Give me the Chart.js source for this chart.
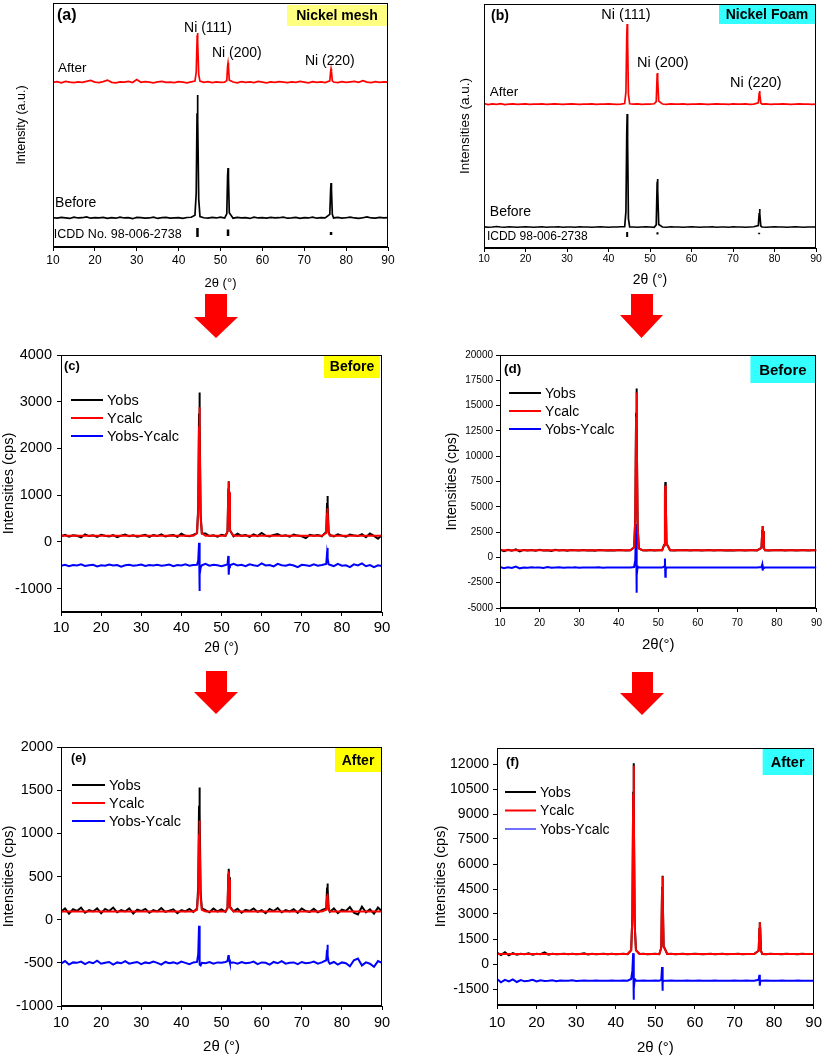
<!DOCTYPE html>
<html>
<head>
<meta charset="utf-8">
<script src="https://cdn.jsdelivr.net/npm/chart.js@4.4.1/dist/chart.umd.min.js"></script>
<style>
  body { margin: 0; background: #fff; }
  #page { position: relative; width: 827px; height: 1057px; overflow: hidden; background: #fff; }
  canvas { position: absolute; }
  .arrow { position: absolute; background: #ff0000; }
</style>
</head>
<body>
<div id="page">
  <canvas id="meshXrd" width="413" height="295" style="left:0;top:0"></canvas>
  <canvas id="foamXrd" width="414" height="295" style="left:413px;top:0"></canvas>
  <canvas id="meshBefore" width="413" height="320" style="left:0;top:340px"></canvas>
  <canvas id="foamBefore" width="414" height="320" style="left:413px;top:340px"></canvas>
  <canvas id="meshAfter" width="413" height="337" style="left:0;top:720px"></canvas>
  <canvas id="foamAfter" width="414" height="337" style="left:413px;top:720px"></canvas>
</div>
<script>
// shared 2-theta grid (deg)
const twoTheta = [
  10, 11, 12, 13, 14, 15, 16, 17, 18, 19, 20, 21, 22, 23, 24, 25, 26, 27, 28, 29, 30, 31, 32, 33, 34, 35, 36, 37, 38, 39, 40, 41, 42, 43,
  43.9, 44.2, 44.4, 44.5, 44.6, 44.8, 45.1,
  46, 47, 48, 49, 50, 51,
  51.5, 51.7, 51.8, 51.9, 52.1,
  53, 54, 55, 56, 57, 58, 59, 60, 61, 62, 63, 64, 65, 66, 67, 68, 69, 70, 71, 72, 73, 74, 75,
  76.1, 76.3, 76.4, 76.5, 76.7,
  77, 78, 79, 80, 81, 82, 83, 84, 85, 86, 87, 88, 89, 90
];
const xTicks = [10, 20, 30, 40, 50, 60, 70, 80, 90];

// (a) nickel mesh, arbitrary units
const meshAfterAU = [
  67.5, 67.8, 67.3, 67.9, 67.6, 67.4, 67.7, 67.5, 67.9, 68.3, 67.6, 67.4, 67.8, 68.4, 67.5, 67.3, 67.7, 67.6, 67.9, 67.4, 68.6, 67.5, 67.8, 67.6, 67.3, 67.7, 67.9, 67.5, 67.6, 67.4, 67.8, 67.6, 67.3, 67.7,
  68.0, 71.6, 84.7, 87.7, 83.7, 70.6, 68.0,
  67.5, 67.8, 67.4, 67.7, 67.5, 67.6,
  68.2, 74.2, 75.4, 73.8, 68.4,
  67.6, 67.3, 67.8, 67.5, 67.7, 67.4, 67.9, 67.6, 67.3, 67.7, 67.5, 67.8, 67.6, 67.4, 67.7, 67.5, 67.9, 67.6, 67.3, 67.8, 67.5, 67.7, 67.4,
  68.1, 71.9, 73.0, 71.9, 68.1,
  67.6, 67.4, 67.8, 67.5, 67.7, 67.9, 67.5, 68.2, 67.6, 67.4, 67.8, 67.5, 67.7, 67.6
];
const meshBeforeAU = [
  12.0, 11.8, 12.1, 11.9, 11.7, 12.2, 11.9, 12.0, 12.3, 11.8, 12.0, 11.9, 12.1, 11.7, 12.0, 11.8, 12.2, 11.9, 12.0, 11.6, 12.1, 12.0, 11.8, 11.9, 12.2, 11.7, 12.0, 12.1, 11.8, 11.9, 12.0, 11.7, 12.1, 12.2,
  13.0, 22, 54.8, 62.3, 52.2, 19.5, 12.5,
  12.0, 11.8, 12.1, 11.9, 12.2, 11.9,
  13.6, 29.3, 32.4, 28.3, 14.0,
  11.8, 12.1, 11.9, 12.0, 11.7, 12.2, 11.9, 12.0, 11.8, 12.1, 11.9, 12.0, 12.2, 11.8, 11.9, 12.1, 11.7, 12.0, 11.9, 12.2, 11.8, 12.0, 11.9,
  13.4, 23.4, 26.2, 23.4, 13.4,
  11.9, 12.1, 11.8, 12.0, 12.2, 11.9, 11.7, 12.0, 12.3, 11.9, 11.8, 12.1, 11.9, 12.0
];
const icddPosMesh = [44.5, 51.8, 76.4];
const icddLowMesh = [4.1, 4.5, 4.9];
const icddHighMesh = [7.8, 7.2, 6.1];

// (b) nickel foam, arbitrary units
const foamAfterAU = [
  59.2, 58.8, 59.1, 58.9, 59.2, 58.8, 59.0, 59.1, 58.9, 59.0, 59.1, 58.9, 59.0, 59.0, 59.1, 58.9, 59.0, 59.1, 59.0, 58.9, 59.0, 59.1, 59.0, 58.9, 59.0, 59.0, 59.1, 58.9, 59.0, 59.0, 59.1, 59.0, 58.9, 59.0,
  59.2, 64, 87, 91.8, 85, 63, 59.1,
  59.0, 59.1, 58.9, 59.0, 59.0, 59.1,
  60.0, 69.8, 71.7, 69.0, 60.2,
  59.0, 58.9, 59.1, 59.0, 59.0, 59.1, 58.9, 59.0, 59.0, 59.1, 59.0, 58.9, 59.0, 59.1, 59.0, 59.0, 58.9, 59.1, 59.0, 59.0, 59.1, 58.9, 59.0,
  59.5, 63.2, 64.3, 63.0, 59.4,
  59.0, 59.1, 58.9, 59.0, 59.0, 59.1, 59.0, 58.9, 59.0, 59.1, 59.0, 59.0, 58.9, 59.0
];
const foamBeforeAU = [
  8.7, 8.5, 8.6, 8.8, 8.6, 8.5, 8.7, 8.6, 8.5, 8.6, 8.7, 8.6, 8.5, 8.6, 8.7, 8.5, 8.6, 8.6, 8.7, 8.5, 8.6, 8.6, 8.5, 8.7, 8.6, 8.6, 8.5, 8.6, 8.7, 8.6, 8.5, 8.6, 8.6, 8.7,
  8.7, 15, 47, 54.9, 44, 12, 8.6,
  8.6, 8.5, 8.6, 8.7, 8.6, 8.5,
  9.5, 25, 28.3, 24, 9.6,
  8.6, 8.5, 8.7, 8.6, 8.6, 8.5, 8.6, 8.7, 8.6, 8.5, 8.6, 8.6, 8.7, 8.5, 8.6, 8.6, 8.5, 8.7, 8.6, 8.6, 8.5, 8.6, 8.7,
  9.2, 14, 16.0, 14, 9.0,
  8.6, 8.5, 8.6, 8.7, 8.6, 8.6, 8.5, 8.6, 8.7, 8.6, 8.5, 8.6, 8.6, 8.6
];
const icddPosFoam = [44.5, 51.8, 76.3];
const icddLowFoam = [4.5, 5.5, 5.6];
const icddHighFoam = [6.6, 6.5, 6.2];

// (c) nickel mesh before, cps
const obsC = [
  120, 150, 110, 140, 130, 95, 160, 125, 140, 105, 150, 130, 115, 145, 100, 135, 155, 120, 140, 110, 130, 150, 105, 145, 125, 160, 115, 135, 145, 110, 175, 130, 120, 150,
  190, 750, 2750, 3200, 2600, 590, 180,
  180, 125, 140, 110, 150, 130,
  220, 1120, 1300, 1060, 250,
  120, 175, 130, 145, 110, 160, 125, 190, 135, 115, 150, 170, 125, 140, 110, 155, 135, 120, 80, 150, 130, 145, 120,
  215, 810, 980, 810, 215,
  150, 120, 160, 135, 110, 155, 140, 125, 165, 100, 180, 130, 70, 150
];
const calcC = [
  130, 130, 130, 130, 130, 130, 130, 130, 130, 130, 130, 130, 130, 130, 130, 130, 130, 130, 130, 130, 130, 130, 130, 130, 130, 130, 130, 130, 130, 130, 130, 130, 130, 130,
  185, 680, 2470, 2880, 2330, 540, 185,
  132, 132, 132, 132, 132, 132,
  225, 1115, 1290, 1060, 245,
  130, 130, 130, 130, 130, 130, 130, 130, 130, 130, 130, 130, 130, 130, 130, 130, 130, 130, 130, 130, 130, 130, 130,
  190, 600, 720, 600, 190,
  130, 130, 130, 130, 130, 130, 130, 130, 130, 130, 130, 130, 130, 130
];
const diffC = [
  -510, -490, -520, -495, -505, -480, -515, -500, -490, -525, -500, -510, -485, -505, -495, -530, -500, -490, -510, -500, -485, -515, -495, -505, -490, -510, -500, -485, -520, -495, -505, -480, -510, -495,
  -490, -400, -20, -1050, -700, -550, -500,
  -470, -510, -490, -500, -520, -495,
  -480, -300, -700, -540, -500,
  -470, -505, -490, -520, -480, -500, -515, -460, -505, -495, -525, -470, -500, -510, -485, -505, -540, -490, -500, -515, -480, -510, -495,
  -470, -250, -130, -350, -480,
  -490, -520, -470, -510, -500, -540, -480, -505, -460, -520, -495, -540, -500, -515
];
const yTicksC = [-1000, 0, 1000, 2000, 3000, 4000];

// (d) nickel foam before, cps
const obsD = [
  780, 620, 760, 650, 800, 600, 740, 690, 720, 650, 760, 680, 710, 640, 750, 690, 720, 660, 730, 700, 680, 720, 690, 710, 670, 730, 700, 690, 710, 680, 720, 700, 690, 710,
  1000, 3900, 14300, 16700, 13500, 3100, 900,
  710, 690, 720, 680, 700, 710,
  1240, 6400, 7450, 6100, 1380,
  700, 690, 710, 700, 720, 680, 700, 710, 690, 700, 720, 690, 700, 710, 680, 700, 690, 710, 700, 690, 710, 700, 690,
  940, 2620, 3100, 2620, 940,
  700, 690, 710, 700, 720, 690, 700, 710, 680, 700, 710, 690, 700, 700
];
const calcD = [
  700, 700, 700, 700, 700, 700, 700, 700, 700, 700, 700, 700, 700, 700, 700, 700, 700, 700, 700, 700, 700, 700, 700, 700, 700, 700, 700, 700, 700, 700, 700, 700, 700, 700,
  1000, 3800, 13900, 16300, 13200, 3000, 900,
  700, 700, 700, 700, 700, 700,
  1210, 6140, 7100, 5820, 1340,
  700, 700, 700, 700, 700, 700, 700, 700, 700, 700, 700, 700, 700, 700, 700, 700, 700, 700, 700, 700, 700, 700, 700,
  940, 2620, 3100, 2620, 940,
  700, 700, 700, 700, 700, 700, 700, 700, 700, 700, 700, 700, 700, 700
];
const diffD = [
  -950, -1060, -980, -1040, -900, -1080, -1000, -1030, -970, -1010, -990, -1040, -960, -1020, -1000, -980, -1030, -990, -1010, -970, -1020, -1000, -990, -1010, -1000, -980, -1020, -1000, -990, -1010, -1000, -1010, -990, -1000,
  -950, -300, 3300, -3500, -1800, -900, -1000,
  -1010, -990, -1000, -1010, -990, -1000,
  -900, -100, -1900, -1200, -1000,
  -1000, -990, -1010, -1000, -990, -1010, -1000, -1000, -990, -1010, -1000, -990, -1010, -1000, -1000, -990, -1010, -1000, -990, -1010, -1000, -1000, -990,
  -950, -700, -1300, -1050, -1000,
  -1000, -1010, -990, -1000, -1010, -990, -1000, -1000, -1010, -990, -1000, -1010, -990, -1000
];
const yTicksD = [-5000, -2500, 0, 2500, 5000, 7500, 10000, 12500, 15000, 17500, 20000];

// (e) nickel mesh after, cps
const obsE = [
  90, 130, 70, 120, 100, 140, 80, 110, 95, 130, 75, 125, 100, 140, 85, 110, 95, 130, 70, 115, 100, 125, 80, 110, 95, 135, 90, 105, 120, 75, 110, 95, 125, 90,
  130, 390, 1320, 1530, 1240, 310, 130,
  110, 85, 130, 95, 120, 90,
  140, 520, 590, 490, 150,
  95, 125, 80, 115, 100, 130, 90, 110, 75, 125, 100, 135, 85, 110, 95, 120, 80, 130, 100, 90, 125, 85, 110,
  130, 360, 420, 360, 130,
  90, 130, 75, 115, 100, 145, 80, 60, 150, 85, 120, 70, 140, 95
];
const calcE = [
  95, 95, 95, 95, 95, 95, 95, 95, 95, 95, 95, 95, 95, 95, 95, 95, 95, 95, 95, 95, 95, 95, 95, 95, 95, 95, 95, 95, 95, 95, 95, 95, 95, 95,
  115, 305, 990, 1150, 940, 255, 115,
  95, 95, 95, 95, 95, 95,
  130, 490, 560, 465, 140,
  95, 95, 95, 95, 95, 95, 95, 95, 95, 95, 95, 95, 95, 95, 95, 95, 95, 95, 95, 95, 95, 95, 95,
  115, 260, 300, 260, 115,
  95, 95, 95, 95, 95, 95, 95, 95, 95, 95, 95, 95, 95, 95
];
const diffE = [
  -510, -480, -520, -495, -500, -485, -515, -490, -505, -475, -510, -500, -490, -520, -495, -505, -480, -510, -500, -490, -515, -495, -505, -485, -500, -520, -490, -505, -495, -510, -485, -500, -515, -495,
  -490, -400, -70, -280, -520, -530, -500,
  -505, -490, -510, -495, -500, -490,
  -480, -420, -410, -460, -500,
  -495, -510, -490, -505, -500, -485, -515, -495, -500, -520, -490, -505, -480, -510, -500, -495, -515, -490, -505, -500, -485, -510, -495,
  -470, -350, -290, -420, -490,
  -510, -490, -520, -495, -505, -540, -470, -450, -530, -495, -510, -545, -480, -500
];
const yTicksE = [-1000, -500, 0, 500, 1000, 1500, 2000];

// (f) nickel foam after, cps
const obsF = [
  680, 540, 700, 520, 650, 560, 620, 580, 640, 560, 610, 590, 700, 560, 620, 580, 600, 610, 590, 620, 580, 600, 640, 570, 610, 590, 600, 620, 580, 610, 590, 600, 610, 590,
  830, 2890, 10330, 12050, 9760, 2320, 830,
  600, 610, 590, 600, 620, 590,
  980, 4600, 5300, 4360, 1070,
  600, 610, 590, 600, 620, 590, 600, 610, 600, 590, 600, 620, 580, 600, 610, 590, 600, 600, 610, 590, 600, 600, 610,
  790, 2120, 2500, 2120, 790,
  600, 590, 610, 600, 600, 590, 610, 600, 600, 590, 610, 600, 600, 600
];
const calcF = [
  600, 600, 600, 600, 600, 600, 600, 600, 600, 600, 600, 600, 600, 600, 600, 600, 600, 600, 600, 600, 600, 600, 600, 600, 600, 600, 600, 600, 600, 600, 600, 600, 600, 600,
  825, 2860, 10200, 11900, 9640, 2295, 825,
  600, 600, 600, 600, 600, 600,
  970, 4550, 5250, 4320, 1065,
  600, 600, 600, 600, 600, 600, 600, 600, 600, 600, 600, 600, 600, 600, 600, 600, 600, 600, 600, 600, 600, 600, 600,
  790, 2120, 2500, 2120, 790,
  600, 600, 600, 600, 600, 600, 600, 600, 600, 600, 600, 600, 600, 600
];
const diffF = [
  -900, -1100, -950, -1050, -920, -1080, -960, -1040, -1000, -950, -1050, -980, -1020, -1000, -970, -1030, -990, -1010, -1000, -980, -1020, -1000, -990, -1010, -1000, -990, -1010, -1000, -1000, -990, -1010, -1000, -990, -1000,
  -900, -400, 650, -2150, -1500, -900, -1000,
  -1000, -990, -1010, -1000, -990, -1000,
  -950, -180, -1600, -1100, -1000,
  -1000, -990, -1010, -1000, -1000, -990, -1010, -1000, -990, -1000, -1010, -1000, -990, -1000, -1010, -1000, -1000, -990, -1010, -1000, -990, -1000, -1000,
  -950, -650, -1300, -1050, -1000,
  -1000, -990, -1010, -1000, -1000, -990, -1010, -1000, -1000, -990, -1010, -1000, -1000, -1000
];
const yTicksF = [-1500, 0, 1500, 3000, 4500, 6000, 7500, 9000, 10500, 12000];

Chart.defaults.font.family = "'Liberation Sans', Arial, sans-serif";
Chart.defaults.color = "#000";

const FONT = "'Liberation Sans', Arial, sans-serif";

function pts(ys) {
  return twoTheta.map((x, i) => ({ x: x, y: ys[i] }));
}

function icddBars(pos, low, high) {
  const out = [];
  pos.forEach((x, i) => {
    out.push({ x: x, y: low[i] }, { x: x, y: high[i] }, { x: x, y: null });
  });
  return out;
}

function line(label, ys, color, order, extra) {
  return Object.assign({
    label: label,
    data: pts(ys),
    borderColor: color,
    backgroundColor: color,
    borderWidth: 2,
    pointRadius: 0,
    tension: 0,
    fill: false,
    order: order,
  }, extra || {});
}

// frame, tag box, panel letter, legend and free text
function decor(d) {
  return {
    id: "decor",
    afterDatasetsDraw(chart) {
      const ctx = chart.ctx;
      const a = chart.chartArea;
      const xs = chart.scales.x, ys = chart.scales.y;
      ctx.save();
      ctx.textBaseline = "middle";

      (d.texts || []).forEach((t) => {
        ctx.font = (t.bold ? "bold " : "") + t.size + "px " + FONT;
        ctx.fillStyle = "#000";
        ctx.textAlign = t.align || "left";
        ctx.fillText(t.text, xs.getPixelForValue(t.x), ys.getPixelForValue(t.y));
      });

      if (d.tag) {
        const g = d.tag;
        const x0 = a.right - g.inset - g.w;
        const y0 = a.top + g.top;
        ctx.fillStyle = g.color;
        ctx.fillRect(x0, y0, g.w, g.h);
        ctx.fillStyle = "#000";
        ctx.font = "bold " + g.size + "px " + FONT;
        ctx.textAlign = "center";
        ctx.fillText(g.text, x0 + g.w / 2, y0 + g.h / 2 + 1);
      }

      if (d.letter) {
        ctx.fillStyle = "#000";
        ctx.font = "bold " + d.letter.size + "px " + FONT;
        ctx.textAlign = "left";
        ctx.fillText(d.letter.text, a.left + d.letter.dx, a.top + d.letter.dy);
      }

      if (d.legend) {
        const L = d.legend;
        ctx.font = L.size + "px " + FONT;
        ctx.textAlign = "left";
        chart.data.datasets.forEach((ds, i) => {
          const y = a.top + L.dy + i * L.gap;
          const x = a.left + L.dx;
          ctx.strokeStyle = ds.legendColor || ds.borderColor;
          ctx.lineWidth = 2;
          ctx.beginPath();
          ctx.moveTo(x, y);
          ctx.lineTo(x + L.len, y);
          ctx.stroke();
          ctx.fillStyle = "#000";
          ctx.fillText(ds.label, x + L.len + 4, y + 1);
        });
      }
      ctx.restore();
    },
    afterDraw(chart) {
      const a = chart.chartArea;
      const ctx = chart.ctx;
      ctx.save();
      ctx.strokeStyle = "#000";
      ctx.lineWidth = 1;
      ctx.strokeRect(Math.round(a.left) + 0.5, Math.round(a.top) + 0.5,
        Math.round(a.right - a.left) - 1, Math.round(a.bottom - a.top) - 1);
      ctx.restore();
    },
  };
}

function xrdChart(id, p) {
  const showY = !!p.yTicks;
  return new Chart(document.getElementById(id), {
    type: "line",
    data: { datasets: p.datasets },
    options: {
      responsive: false,
      animation: false,
      devicePixelRatio: 1,
      layout: { padding: { top: p.top, right: p.right, left: 0, bottom: 0 } },
      plugins: { legend: { display: false }, tooltip: { enabled: false } },
      scales: {
        x: {
          type: "linear",
          min: 10,
          max: 90,
          afterBuildTicks: (s) => { s.ticks = xTicks.map((v) => ({ value: v })); },
          afterFit: (s) => { s.height = p.xh; },
          grid: { drawOnChartArea: false, drawTicks: true, tickLength: 4, color: "#000" },
          border: { color: "#000" },
          ticks: { font: { size: p.xTickSize }, padding: p.xTickPad, color: "#000", maxRotation: 0, callback: (v) => String(v) },
          title: {
            display: true,
            text: p.xTitle,
            font: { size: p.xTitleSize },
            padding: { top: 0, bottom: p.xTitlePad },
            color: "#000",
          },
        },
        y: {
          type: "linear",
          min: p.yMin,
          max: p.yMax,
          afterBuildTicks: (s) => { if (showY) s.ticks = p.yTicks.map((v) => ({ value: v })); },
          afterFit: (s) => { s.width = p.yw; },
          grid: { drawOnChartArea: false, drawTicks: showY, tickLength: 4, color: "#000" },
          border: { color: "#000" },
          ticks: { display: showY, font: { size: p.yTickSize || 12 }, padding: p.yTickPad || 3, color: "#000", callback: (v) => String(v) },
          title: {
            display: true,
            text: p.yTitle,
            font: { size: p.yTitleSize, lineHeight: 1.2 },
            padding: { top: p.yTitlePad, bottom: 0 },
            color: "#000",
          },
        },
      },
    },
    plugins: [decor(p.decor)],
  });
}

// (a)
xrdChart("meshXrd", {
  datasets: [
    line("After", meshAfterAU, "#ff0000", 1, { borderWidth: 1.7 }),
    line("Before", meshBeforeAU, "#000000", 0, { borderWidth: 1.7 }),
    { label: "ICDD", data: icddBars(icddPosMesh, icddLowMesh, icddHighMesh), borderColor: "#000", borderWidth: 2.5, pointRadius: 0, spanGaps: false },
  ],
  top: 3, right: 25, yw: 53, xh: 48,
  yMin: 0, yMax: 100,
  xTickSize: 12, xTickPad: 2, xTitle: "2θ (°)", xTitleSize: 13, xTitlePad: 4,
  yTitle: "Intensity (a.u.)", yTitleSize: 12.5, yTitlePad: 14,
  decor: {
    letter: { text: "(a)", size: 16, dx: 4, dy: 13 },
    tag: { text: "Nickel mesh", color: "#ffff80", w: 100, h: 21, inset: 1, top: 2, size: 14 },
    texts: [
      { text: "Ni (111)", x: 47.0, y: 89.8, size: 14, align: "center" },
      { text: "Ni (200)", x: 53.9, y: 79.5, size: 14, align: "center" },
      { text: "Ni (220)", x: 76.1, y: 76.2, size: 14, align: "center" },
      { text: "After", x: 11.2, y: 73.4, size: 13.5 },
      { text: "Before", x: 10.5, y: 18.0, size: 14 },
      { text: "ICDD No. 98-006-2738", x: 10.2, y: 5.3, size: 12.5 },
    ],
  },
});

// (b)
xrdChart("foamXrd", {
  datasets: [
    line("After", foamAfterAU, "#ff0000", 1, { borderWidth: 1.7 }),
    line("Before", foamBeforeAU, "#000000", 0, { borderWidth: 1.7 }),
    { label: "ICDD", data: icddBars(icddPosFoam, icddLowFoam, icddHighFoam), borderColor: "#000", borderWidth: 2, pointRadius: 0, spanGaps: false },
  ],
  top: 4, right: 11, yw: 71, xh: 47,
  yMin: 0, yMax: 100,
  xTickSize: 10.5, xTickPad: 1, xTitle: "2θ (°)", xTitleSize: 14, xTitlePad: 6,
  yTitle: "Intensities (a.u.)", yTitleSize: 13.5, yTitlePad: 44,
  decor: {
    letter: { text: "(b)", size: 14, dx: 7, dy: 12 },
    tag: { text: "Nickel Foam", color: "#33ffff", w: 96, h: 20, inset: 1, top: 0, size: 14 },
    texts: [
      { text: "Ni (111)", x: 44.2, y: 95.5, size: 14.5, align: "center" },
      { text: "Ni (200)", x: 53.1, y: 75.8, size: 14.5, align: "center" },
      { text: "Ni (220)", x: 75.5, y: 67.6, size: 14.5, align: "center" },
      { text: "After", x: 11.4, y: 63.9, size: 13.5 },
      { text: "Before", x: 11.4, y: 14.8, size: 14 },
      { text: "ICDD 98-006-2738", x: 10.7, y: 4.5, size: 12 },
    ],
  },
});

// (c)
xrdChart("meshBefore", {
  datasets: [
    line("Yobs", obsC, "#000000", 1),
    line("Ycalc", calcC, "#ff0000", 0),
    line("Yobs-Ycalc", diffC, "#0000ff", 2),
  ],
  top: 15, right: 31, yw: 61, xh: 48,
  yMin: -1500, yMax: 4000, yTicks: yTicksC, yTickSize: 14.5, yTickPad: 5,
  xTickSize: 15, xTickPad: 3, xTitle: "2θ (°)", xTitleSize: 14, xTitlePad: 3,
  yTitle: "Intensities (cps)", yTitleSize: 14.5, yTitlePad: 0,
  decor: {
    letter: { text: "(c)", size: 13, dx: 3, dy: 11 },
    tag: { text: "Before", color: "#ffff00", w: 56, h: 23, inset: 2, top: 0, size: 14 },
    legend: { dx: 10, dy: 45, gap: 18, len: 32, size: 14.5 },
  },
});

// (d)
xrdChart("foamBefore", {
  datasets: [
    line("Yobs", obsD, "#000000", 1),
    line("Ycalc", calcD, "#ff0000", 0),
    line("Yobs-Ycalc", diffD, "#0000ff", 2),
  ],
  top: 15, right: 6, yw: 87, xh: 52,
  yMin: -5000, yMax: 20000, yTicks: yTicksD, yTickSize: 10, yTickPad: 3,
  xTickSize: 10, xTickPad: 5, xTitle: "2θ(°)", xTitleSize: 15, xTitlePad: 6,
  yTitle: "Intensities (cps)", yTitleSize: 14, yTitlePad: 31,
  decor: {
    letter: { text: "(d)", size: 13.5, dx: 4, dy: 14 },
    tag: { text: "Before", color: "#33ffff", w: 65, h: 27, inset: 1, top: 1, size: 15 },
    legend: { dx: 9, dy: 38, gap: 18, len: 32, size: 14 },
  },
});

// (e)
xrdChart("meshAfter", {
  datasets: [
    line("Yobs", obsE, "#000000", 1),
    line("Ycalc", calcE, "#ff0000", 0),
    line("Yobs-Ycalc", diffE, "#0000ff", 2),
  ],
  top: 27, right: 31, yw: 61, xh: 51,
  yMin: -1000, yMax: 2000, yTicks: yTicksE, yTickSize: 14.5, yTickPad: 4,
  xTickSize: 14.5, xTickPad: 4, xTitle: "2θ (°)", xTitleSize: 15, xTitlePad: 1,
  yTitle: "Intensities (cps)", yTitleSize: 14.5, yTitlePad: 0,
  decor: {
    letter: { text: "(e)", size: 12.5, dx: 10, dy: 12 },
    tag: { text: "After", color: "#ffff00", w: 46, h: 24, inset: 1, top: 1, size: 14 },
    legend: { dx: 11, dy: 38, gap: 18, len: 33, size: 14.5 },
  },
});

// (f)
xrdChart("foamAfter", {
  datasets: [
    line("Yobs", obsF, "#000000", 1),
    line("Ycalc", calcF, "#ff0000", 0),
    line("Yobs-Ycalc", diffF, "#0000ff", 2, { legendColor: "#7070ff" }),
  ],
  top: 28, right: 9, yw: 84, xh: 52,
  yMin: -2460, yMax: 12960, yTicks: yTicksF, yTickSize: 14, yTickPad: 4,
  xTickSize: 15, xTickPad: 5, xTitle: "2θ (°)", xTitleSize: 15, xTitlePad: 0,
  yTitle: "Intensities (cps)", yTitleSize: 14.5, yTitlePad: 19,
  decor: {
    letter: { text: "(f)", size: 13, dx: 9, dy: 14 },
    tag: { text: "After", color: "#33ffff", w: 50, h: 27, inset: 1, top: 0, size: 14.5 },
    legend: { dx: 8, dy: 44, gap: 18.5, len: 31, size: 14 },
  },
});

// red arrows between rows
const arrows = [
  { left: 194, top: 294, w: 44, h: 44, s0: 11, s1: 33, head: 23 },
  { left: 620, top: 294, w: 43, h: 44, s0: 11, s1: 33, head: 21 },
  { left: 194, top: 671, w: 44, h: 43, s0: 12, s1: 33, head: 21 },
  { left: 620, top: 672, w: 44, h: 43, s0: 12, s1: 33, head: 21 },
];
arrows.forEach((a) => {
  const el = document.createElement("div");
  el.className = "arrow";
  el.style.left = a.left + "px";
  el.style.top = a.top + "px";
  el.style.width = a.w + "px";
  el.style.height = a.h + "px";
  el.style.clipPath = `polygon(${a.s0}px 0, ${a.s1}px 0, ${a.s1}px ${a.head}px, ${a.w}px ${a.head}px, ${a.w / 2}px ${a.h}px, 0 ${a.head}px, ${a.s0}px ${a.head}px)`;
  document.getElementById("page").appendChild(el);
});
</script>
</body>
</html>
